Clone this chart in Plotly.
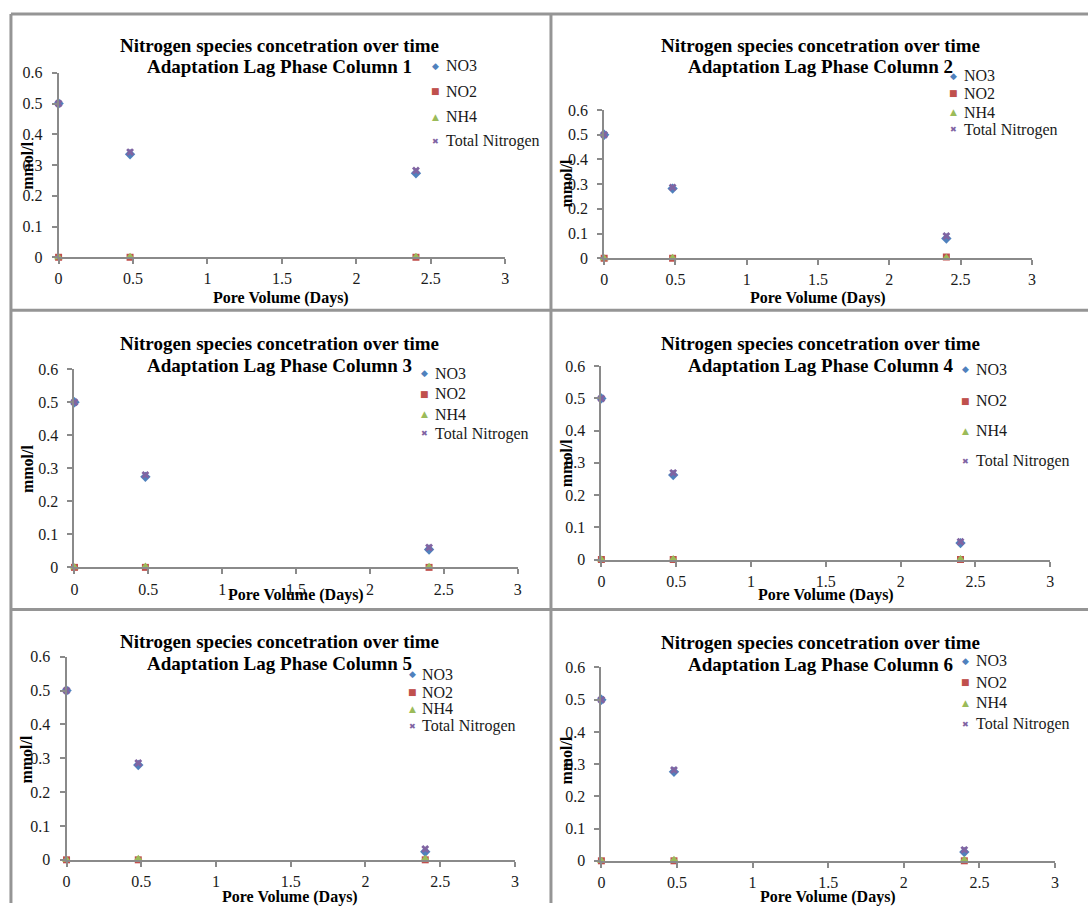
import plotly.graph_objects as go

# ---------------- data ----------------
pore_volume = [0, 0.48, 2.4]
series_names = ["NO3", "NO2", "NH4", "Total Nitrogen"]
x_ticks = [0, 0.5, 1, 1.5, 2, 2.5, 3]
y_ticks = [0, 0.1, 0.2, 0.3, 0.4, 0.5, 0.6]

col1_no3 = [0.5, 0.335, 0.273]
col1_no2 = [0, 0, 0]
col1_nh4 = [0, 0.002, 0.002]
col1_tn = [0.5, 0.342, 0.282]

col2_no3 = [0.5, 0.282, 0.080]
col2_no2 = [0, 0, 0.005]
col2_nh4 = [0, 0.002, 0.002]
col2_tn = [0.5, 0.287, 0.090]

col3_no3 = [0.5, 0.274, 0.054]
col3_no2 = [0, 0, 0]
col3_nh4 = [0, 0.003, 0.002]
col3_tn = [0.5, 0.280, 0.060]

col4_no3 = [0.5, 0.262, 0.051]
col4_no2 = [0, 0, 0]
col4_nh4 = [0, 0.002, 0.002]
col4_tn = [0.5, 0.269, 0.055]

col5_no3 = [0.5, 0.280, 0.024]
col5_no2 = [0, 0, 0]
col5_nh4 = [0, 0.003, 0.003]
col5_tn = [0.5, 0.286, 0.032]

col6_no3 = [0.5, 0.276, 0.027]
col6_no2 = [0, 0, 0]
col6_nh4 = [0, 0.003, 0.003]
col6_tn = [0.5, 0.282, 0.034]

columns = [
    (col1_no3, col1_no2, col1_nh4, col1_tn),
    (col2_no3, col2_no2, col2_nh4, col2_tn),
    (col3_no3, col3_no2, col3_nh4, col3_tn),
    (col4_no3, col4_no2, col4_nh4, col4_tn),
    (col5_no3, col5_no2, col5_nh4, col5_tn),
    (col6_no3, col6_no2, col6_nh4, col6_tn),
]

# ---------------- style / layout ----------------
W, H = 1092, 912
SERIF = "Liberation Serif"
colors = ["#4F81BD", "#C0504D", "#9BBB59", "#8064A2"]
symbols = ["diamond", "square", "triangle-up", "x"]
sizes = [8, 7, 8, 7]
leg_glyphs = ["◆", "■", "▲", "✖"]
leg_glyph_sizes = [9, 9, 9, 8]
AXIS_COLOR = "#8a8a8a"


def px(x):
    return x / W


def py(y):
    return 1 - y / H


# pixel geometry of each chart
panels = [
    dict(x0=55, x1=505, yb=254, yt=66, tx=278, ty=(38, 60), ytl=(23, 160), xtl=(279, 295),
         lx=435, lys=[59, 85, 111, 136], ltx=443),
    dict(x0=604.6, x1=1035.5, yb=255, yt=104, tx=823, ty=(38, 60), ytl=(567, 178), xtl=(820, 295),
         lx=957, lys=[69, 87, 106, 124], ltx=965),
    dict(x0=71, x1=517.5, yb=570, yt=368, tx=278, ty=(342, 364), ytl=(23, 469), xtl=(294, 598),
         lx=424, lys=[372, 393, 414, 434], ltx=432),
    dict(x0=601.8, x1=1054, yb=562, yt=365, tx=823, ty=(342, 364), ytl=(567, 463), xtl=(828, 598),
         lx=968.5, lys=[368, 400, 431, 462], ltx=977),
    dict(x0=63, x1=514.7, yb=868, yt=661, tx=278, ty=(646, 668), ytl=(23, 765), xtl=(288, 906),
         lx=412, lys=[679, 697, 714, 732], ltx=419.5),
    dict(x0=601.8, x1=1058.8, yb=869, yt=672, tx=823, ty=(647, 669), ytl=(567, 766), xtl=(830, 906),
         lx=968.5, lys=[665, 687, 708, 730], ltx=977),
]

fig = go.Figure()
annotations = []

for i, (p, data) in enumerate(zip(panels, columns), start=1):
    xa = "x" if i == 1 else f"x{i}"
    ya = "y" if i == 1 else f"y{i}"
    for k in range(4):
        fig.add_trace(go.Scatter(
            x=pore_volume, y=data[k], mode="markers", name=series_names[k],
            xaxis=xa, yaxis=ya, showlegend=False, cliponaxis=False,
            marker=dict(symbol=symbols[k], size=sizes[k], color=colors[k],
                        line=dict(width=0)),
        ))
    axis_common = dict(showgrid=False, zeroline=False, showline=True, linecolor=AXIS_COLOR,
                       linewidth=2, ticks="outside", ticklen=5, tickcolor=AXIS_COLOR,
                       tickwidth=1.5, tickfont=dict(family=SERIF, size=16, color="#1a1a1a"),
                       fixedrange=True)
    fig.layout[f"xaxis{'' if i == 1 else i}"] = dict(
        axis_common, domain=[px(p["x0"]), px(p["x1"])], range=[0, 3],
        tickvals=x_ticks, ticktext=[f"{v:g}" for v in x_ticks],
        anchor=ya, ticklabelstandoff=1)
    fig.layout[f"yaxis{'' if i == 1 else i}"] = dict(
        axis_common, domain=[py(p["yb"]), py(p["yt"])], range=[0, 0.6],
        tickvals=y_ticks, ticktext=[f"{v:g}" for v in y_ticks],
        anchor=xa, ticklabelstandoff=6)

    # chart title (two lines)
    annotations.append(dict(x=px(p["tx"]), y=py(p["ty"][0]), xref="paper", yref="paper",
                            text="<b>Nitrogen species concetration over time</b>", showarrow=False,
                            xanchor="center", yanchor="middle",
                            font=dict(family=SERIF, size=19, color="#000")))
    annotations.append(dict(x=px(p["tx"]), y=py(p["ty"][1]), xref="paper", yref="paper",
                            text=f"<b>Adaptation Lag Phase Column {i}</b>", showarrow=False,
                            xanchor="center", yanchor="middle",
                            font=dict(family=SERIF, size=19, color="#000")))
    # axis titles
    annotations.append(dict(x=px(p["xtl"][0]), y=py(p["xtl"][1]), xref="paper", yref="paper",
                            text="<b>Pore Volume (Days)</b>", showarrow=False,
                            xanchor="center", yanchor="middle",
                            font=dict(family=SERIF, size=16, color="#000")))
    annotations.append(dict(x=px(p["ytl"][0]), y=py(p["ytl"][1]), xref="paper", yref="paper",
                            text="<b>mmol/l</b>", showarrow=False, textangle=-90,
                            xanchor="center", yanchor="middle",
                            font=dict(family=SERIF, size=16, color="#000")))
    # legend
    for k in range(4):
        annotations.append(dict(x=px(p["lx"]), y=py(p["lys"][k]), xref="paper", yref="paper",
                                text=leg_glyphs[k], showarrow=False,
                                xanchor="center", yanchor="middle",
                                font=dict(family="DejaVu Sans", size=leg_glyph_sizes[k],
                                          color=colors[k])))
        annotations.append(dict(x=px(p["ltx"]), y=py(p["lys"][k]), xref="paper", yref="paper",
                                text=series_names[k], showarrow=False,
                                xanchor="left", yanchor="middle",
                                font=dict(family=SERIF, size=16, color="#1a1a1a")))

# chart borders
BORDER = "#959595"
shapes = []
for (xa, ya, xb, yb) in [(7, 6, 7, 912), (551, 6, 551, 912), (7, 6, 1092, 6),
                         (7, 308, 1092, 308), (7, 613, 1092, 613)]:
    shapes.append(dict(type="line", xref="paper", yref="paper", x0=px(xa), y0=py(ya),
                       x1=px(xb), y1=py(yb), line=dict(color=BORDER, width=3)))

fig.update_layout(
    width=W, height=H, margin=dict(l=0, r=0, t=0, b=0),
    paper_bgcolor="white", plot_bgcolor="white",
    annotations=annotations, shapes=shapes, showlegend=False,
)

fig.write_html("out.html", config={"displayModeBar": False})
